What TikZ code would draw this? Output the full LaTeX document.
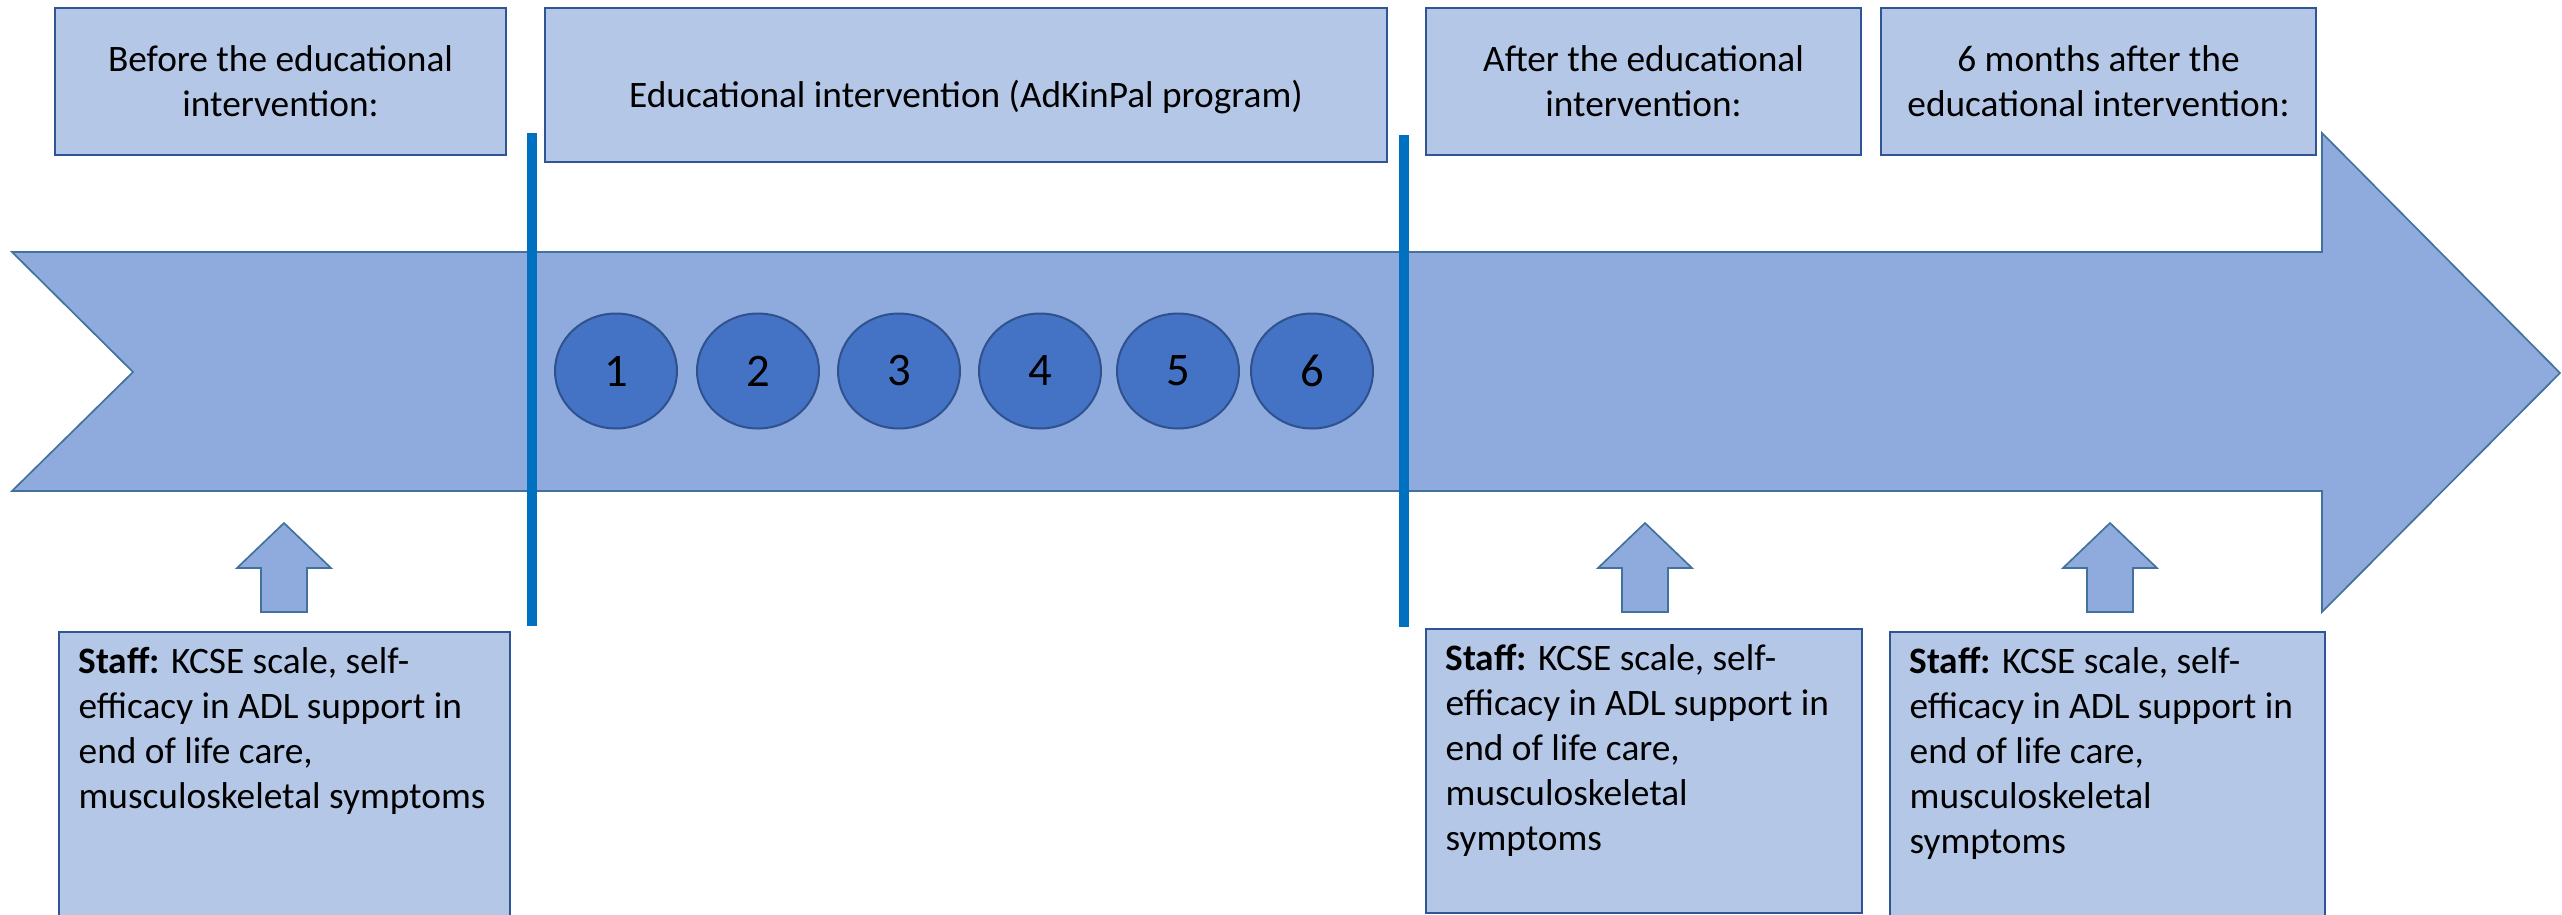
\documentclass[tikz,border=0pt]{standalone}
\usepackage{fontspec}
\setmainfont{Carlito}
\usepackage{tikz}
\usetikzlibrary{shapes.geometric,positioning}
\definecolor{boxfill}{HTML}{B4C7E7}
\definecolor{boxline}{HTML}{2F5597}
\definecolor{bandfill}{HTML}{8FAADC}
\definecolor{bandline}{HTML}{41719C}
\definecolor{sessfill}{HTML}{4472C4}
\definecolor{sessline}{HTML}{2F528F}
\definecolor{markline}{HTML}{0070C0}

\begin{document}
\begin{tikzpicture}[x=0.3pt, y=-0.3pt, phasebox/.style={draw=boxline,fill=boxfill,line width=0.6pt,anchor=north west,align=center,inner sep=0pt,font=\fontsize{11.2pt}{13.5pt}\selectfont}, staffbox/.style={draw=boxline,fill=boxfill,line width=0.6pt,anchor=north west,inner sep=0pt}, stafftext/.style={align=left,inner sep=0pt,font=\fontsize{11.2pt}{13.5pt}\selectfont}, session/.style={ellipse,draw=sessline,fill=sessfill,line width=0.6pt,minimum width=36.6pt,minimum height=34.5pt,inner sep=0pt,font=\fontsize{14pt}{16pt}\selectfont}, marker/.style={draw=markline,line width=3pt}, band/.style={draw=bandline,fill=bandfill,line width=0.5pt}]
  \useasboundingbox (0,0) rectangle (2562,914);
  \node[phasebox,minimum width=135.3pt,minimum height=44.1pt] (before) at (54,7) {Before the educational\\intervention:};
  \node[phasebox,minimum width=252.6pt,minimum height=46.2pt,text height=13.2pt,text depth=0pt] (program) at (544,7) {Educational intervention (AdKinPal program)};
  \node[phasebox,minimum width=130.5pt,minimum height=44.1pt] (after) at (1425,7) {After the educational\\intervention:};
  \node[phasebox,minimum width=130.5pt,minimum height=44.1pt] (later) at (1880,7) {6 months after the\\educational intervention:};
  \node[staffbox,minimum width=135.3pt,minimum height=91.2pt] (staffA) at (58,631) {};
  \node[staffbox,minimum width=130.8pt,minimum height=85.2pt] (staffB) at (1425,628) {};
  \node[staffbox,minimum width=130.5pt,minimum height=91.2pt] (staffC) at (1889,631) {};
  \node[stafftext,below right=4.7pt and 6pt of staffA.north west] (staffA-txt) {\textbf{Staff:} KCSE scale, self-\\efficacy in ADL support in\\end of life care,\\musculoskeletal symptoms};
  \node[stafftext,below right=4.7pt and 6pt of staffB.north west] (staffB-txt) {\textbf{Staff:} KCSE scale, self-\\efficacy in ADL support in\\end of life care,\\musculoskeletal\\symptoms};
  \node[stafftext,below right=4.7pt and 6pt of staffC.north west] (staffC-txt) {\textbf{Staff:} KCSE scale, self-\\efficacy in ADL support in\\end of life care,\\musculoskeletal\\symptoms};
  \draw[band] (12,252) -- (2322,252) -- (2322,133) -- (2560,373) -- (2322,612) -- (2322,491) -- (12,491) -- (133,372) -- cycle;
  \draw[marker] (532,133) -- (532,626);
  \draw[marker] (1404,135) -- (1404,627);
  \foreach \n/\sx in {1/616,2/758,3/899,4/1040,5/1178,6/1312}
    \node[session] (s\n) at (\sx,371) {\n};
  \foreach \ax in {284,1645,2110}
    \draw[band] (\ax,523) -- ++(47,45) -- ++(-24,0) -- ++(0,44) -- ++(-46,0) -- ++(0,-44) -- ++(-24,0) -- cycle;
\end{tikzpicture}
\end{document}
